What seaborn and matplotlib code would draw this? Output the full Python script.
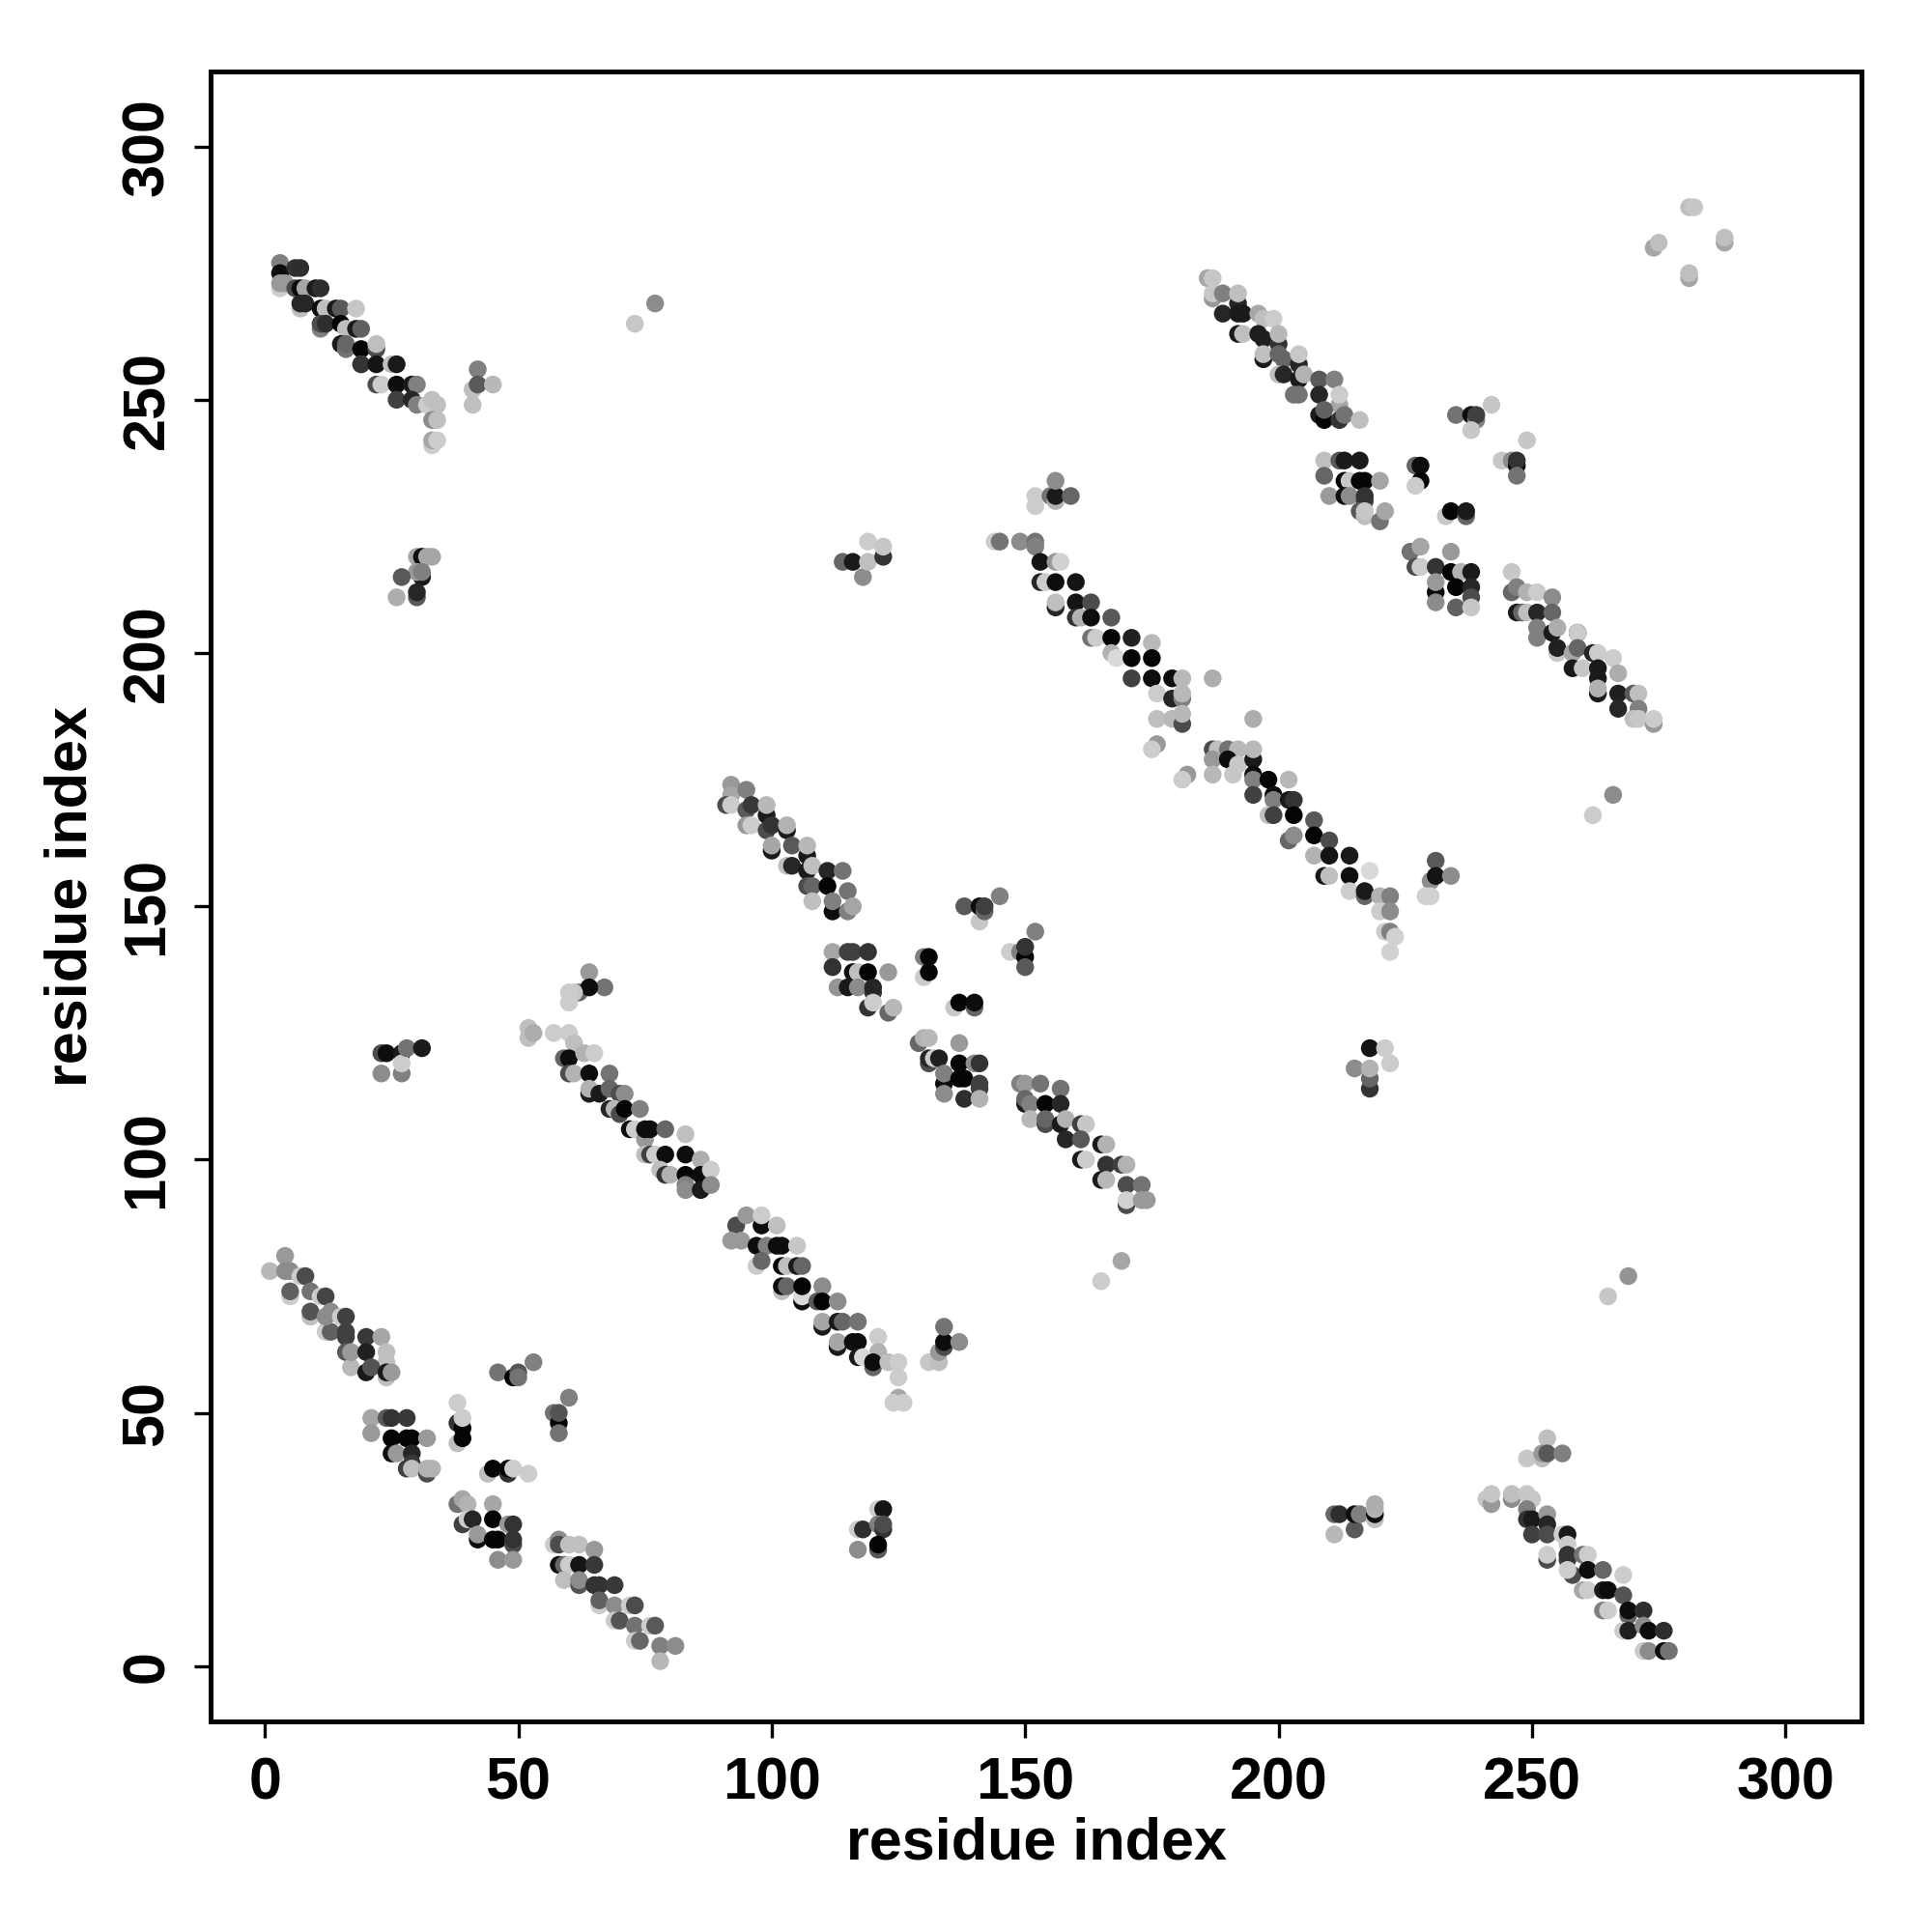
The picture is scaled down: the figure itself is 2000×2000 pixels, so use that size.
import pandas as pd
import matplotlib
matplotlib.use("Agg")
import matplotlib.pyplot as plt
import seaborn as sns

# each point: residue i, residue j, grey level (0 black .. 1 white)
band_a = [(1,78,.72),(4,81,.6),(5,73,.8),(5,74,.38),(4,78,.55),(5,78,.55),(7,77,.8),(8,77,.3),(9,69,.75),(9,70,.33),(9,74,.45),
          (11,73,.8),(12,73,.27),(12,66,.8),(13,66,.38),(12,69,.55),(13,70,.55),(15,69,.8),(16,69,.25),(16,66,.25),(16,65,.25),
          (20,65,.22),(23,65,.65),(16,62,.35),(17,59,.72),(17,62,.6),(20,62,.13),(24,62,.75),(24,60,.75),(20,58,.1),(21,59,.33),
          (24,57,.75),(24,58,.1),(25,58,.6)]
cluster_b = [(21,49,.65),(21,46,.6),(24,49,.35),(25,49,.2),(28,49,.22),(25,45,.02),(28,45,.02),(29,45,.02),(32,45,.6),(25,42,.05),
             (26,42,.6),(28,39,.25),(29,42,.15),(29,40,.22),(29,39,.75),(32,38,.3),(32,39,.7),(33,39,.7),
             (38,44,.75),(39,45,.02),(38,48,.2),(39,47,.02),(39,49,.8),(38,52,.8),
             (44,38,.75),(45,39,.02),(48,38,.2),(48,39,.02),(49,39,.8),(52,38,.8),
             (46,58,.45),(49,57,.02),(50,58,.33),(50,57,.45),(53,60,.5),
             (60,53,.5),(57,50,.45),(58,48,.02),(58,50,.33),(58,46,.45)]
cluster_c = [(38,32,.45),(39,33,.65),(40,32,.7),(39,28,.25),(40,29,.8),(41,29,.15),(42,25,.05),(42,26,.6),(45,32,.65),(45,29,.02),
             (45,25,.02),(46,25,.02),(48,28,.6),(49,28,.2),(49,24,.3),(49,25,.2),(46,21,.55),(49,21,.6)]
band_d = [(57,24,.8),(58,25,.55),(58,24,.3),(60,24,.75),(62,24,.75),(65,23,.6),(58,20,.05),(59,20,.4),(60,20,.8),(62,20,.08),(65,20,.22),
          (59,17,.75),(62,16,.33),(62,17,.55),(65,16,.2),(66,16,.2),(69,16,.22),(66,12,.8),(66,13,.38),(69,12,.55),(72,12,.8),(73,12,.3),
          (69,9,.8),(70,9,.33),(73,8,.45),(76,8,.8),(77,8,.35),(73,5,.8),(74,5,.4),(78,4,.5),(81,4,.55),(78,1,.72)]
band_e = [(93,87,.3),(95,89,.6),(98,87,.05),(98,89,.8),(101,87,.75),(92,84,.6),(94,84,.6),(97,83,.05),(99,83,.5),(101,83,.05),(102,83,.05),(105,83,.78),
          (97,79,.8),(98,80,.4),(102,79,.02),(103,79,.75),(105,79,.1),(106,79,.4),(102,74,.75),(102,75,.05),(103,75,.4),(106,72,.05),(106,73,.85),(106,75,.02),(110,75,.55),
          (109,72,.35),(110,72,.02),(113,72,.55),(110,67,.1),(110,68,.65),(113,68,.1),(114,68,.4),(117,68,.45),(113,63,.1),(113,64,.65),
          (116,64,.05),(117,64,.05),(121,65,.8),(121,62,.7),(117,61,.1),(118,61,.85),(120,59,.4),(120,60,.05),(123,60,.75),(125,60,.8),
          (125,57,.8),(125,53,.65),(124,52,.8),(126,52,.8)]
cluster_f = [(131,60,.78),(133,60,.75),(133,62,.6),(134,63,.3),(134,64,.05),(134,67,.45),(137,64,.55),(165,76,.8),(169,80,.65),
             (121,31,.8),(122,31,.08),(117,27,.8),(118,27,.18),(121,28,.5),(122,27,.2),(122,28,.3),(121,23,.35),(121,24,.02),(117,23,.55),
             (265,73,.78),(269,77,.58)]
band_g = [(52,126,.75),(52,124,.75),(53,125,.68),(57,125,.8),(60,125,.8),(61,123,.75),(59,120,.4),(60,120,.05),(63,121,.7),(65,121,.8),
          (60,117,.3),(61,117,.7),(64,117,.05),(68,117,.45),(64,113,.1),(64,114,.7),(66,113,.1),(68,114,.4),(70,113,.3),(71,113,.55),
          (68,110,.15),(69,110,.72),(70,109,.3),(71,110,.02),(74,110,.5),(72,106,.05),(73,106,.8),(75,104,.6),(75,106,.05),(76,106,.05),(79,106,.4),
          (83,105,.75),(75,101,.75),(76,101,.25),(77,101,.8),(79,101,.05),(83,101,.05),(86,100,.68),(78,98,.75),(79,97,.2),(80,97,.7),(83,97,.02),(86,97,.05),(88,98,.8),
          (83,95,.5),(83,94,.55),(86,94,.1),(88,95,.55)]
cluster_h = [(64,137,.6),(67,134,.45),(62,133,.4),(64,134,.05),(61,133,.78),(60,133,.8),(60,131,.8),
             (23,117,.55),(23,121,.3),(24,121,.05),(27,121,.1),(27,117,.5),(27,119,.8),(28,122,.45),(31,122,.1)]
band_i = [(92,174,.6),(92,172,.65),(95,173,.5),(91,170,.3),(92,170,.8),(95,169,.35),(96,170,.22),(99,168,.1),(99,170,.72),
          (95,166,.6),(96,166,.8),(99,165,.3),(100,166,.2),(103,165,.1),(103,166,.7),(100,161,.1),(100,162,.65),(104,162,.35),(107,160,.1),(107,162,.72),
          (103,158,.75),(104,158,.15),(107,157,.1),(108,158,.75),(111,157,.15),(114,157,.45),(107,154,.3),(108,154,.4),(111,154,.02),(108,151,.75),(115,153,.45),
          (112,149,.05),(112,151,.5),(115,149,.5),(116,150,.65)]
cluster_j = [(112,141,.65),(115,141,.25),(116,141,.25),(119,141,.2),(112,138,.2),(116,137,.05),(117,137,.75),(119,137,.02),(123,137,.6),
             (113,134,.58),(115,134,.1),(117,134,.55),(120,133,.22),(120,134,.15),(119,130,.2),(120,131,.8),(123,129,.4),(124,130,.72),
             (130,136,.8),(130,140,.5),(131,140,.02),(131,137,.02),
             (141,147,.78),(138,150,.35),(141,150,.05),(142,149,.4),(142,150,.25),(145,152,.5),
             (147,141,.8),(149,141,.5),(150,140,.02),(150,142,.2),(150,138,.35),(152,145,.5),
             (136,130,.78),(137,131,.02),(140,130,.4),(140,131,.05)]
cluster_k = [(129,123,.4),(130,124,.7),(131,124,.72),(137,123,.6),(131,119,.3),(131,120,.15),(132,120,.8),(133,120,.12),(137,119,.02),(140,119,.55),(141,119,.2),
             (134,115,.05),(134,117,.5),(137,116,.02),(138,116,.02),(141,115,.25),(141,114,.25),(134,113,.55),(138,112,.18),(141,112,.7)]
band_l = [(149,115,.5),(150,115,.6),(153,115,.45),(157,114,.45),(150,111,.1),(150,112,.4),(151,111,.5),(154,111,.02),(157,111,.15),
          (151,108,.72),(154,107,.3),(154,108,.4),(157,107,.1),(158,108,.7),(161,107,.25),(162,107,.78),(158,104,.15),(161,104,.35),(165,103,.1),(166,103,.7),
          (161,100,.1),(162,100,.8),(166,99,.2),(169,99,.25),(170,99,.7),(165,96,.1),(166,96,.72),(170,95,.3),(173,95,.45),
          (170,91,.3),(170,92,.82),(173,92,.6),(174,92,.6)]
band_m = [(144,222,.8),(145,222,.45),(149,222,.55),(152,222,.45),(152,221,.5),(153,218,.08),(156,218,.6),(157,218,.82),
          (153,214,.15),(154,214,.8),(156,214,.05),(156,209,.15),(156,210,.75),(160,214,.08),(160,210,.08),(163,210,.3),
          (160,207,.2),(161,207,.7),(163,207,.05),(167,207,.35),(163,203,.45),(164,203,.8),(167,203,.02),(171,203,.13),
          (167,200,.7),(168,199,.85),(171,199,.02),(175,202,.72),(175,199,.02),(171,195,.25),(175,195,.05),(179,195,.05),(181,195,.72),(187,195,.68),
          (176,192,.8),(179,191,.15),(181,191,.5),(181,192,.72),(176,187,.75),(179,187,.72),(181,186,.3),(181,188,.72),(195,187,.68),
          (176,182,.6),(175,181,.8),(182,176,.6),(181,175,.8)]
band_n = [(187,181,.3),(188,181,.75),(187,179,.6),(187,176,.72),(190,181,.45),(192,181,.72),(190,179,.05),(192,178,.78),(191,176,.78),(195,179,.1),(195,181,.72),
          (195,176,.05),(195,175,.5),(198,175,.02),(202,175,.72),(195,172,.25),(199,172,.05),(199,171,.5),(202,171,.1),(203,171,.2),
          (198,168,.75),(199,168,.25),(203,168,.02),(207,167,.35),(202,163,.4),(203,164,.55),(207,164,.02),(210,163,.3),(207,160,.7),
          (210,160,.08),(214,160,.1),(209,156,.1),(210,156,.75),(214,156,.05),(218,157,.85),(214,153,.8),(217,152,.4),(217,153,.1),(220,152,.7),(222,152,.5),
          (220,149,.8),(222,149,.55),(221,145,.8),(222,145,.5),(223,144,.82),(222,141,.82),
          (231,159,.35),(230,155,.55),(231,156,.08),(234,156,.55),(229,152,.82),(230,152,.82),(262,168,.8),(266,172,.55)]
cluster_o = [(215,118,.55),(218,114,.2),(218,116,.4),(218,118,.7),(218,122,.08),(221,122,.8),(222,119,.8),
             (114,218,.4),(116,218,.1),(118,215,.55),(119,218,.75),(119,222,.8),(122,219,.2),(122,221,.78),
             (152,231,.8),(152,229,.8),(155,231,.45),(156,230,.7),(156,231,.1),(156,234,.55),(159,231,.4)]
band_p = [(3,277,.5),(3,275,.05),(3,272,.8),(3,273,.6),(4,273,.6),(6,276,.2),(7,276,.18),(6,272,.3),(7,272,.05),(8,272,.65),(10,272,.1),(11,272,.18),
          (7,268,.75),(7,269,.15),(8,269,.15),(11,268,.05),(12,268,.75),(14,268,.1),(15,268,.35),(18,268,.78),
          (11,264,.5),(11,265,.3),(12,265,.18),(15,265,.02),(16,264,.75),(18,264,.1),(19,264,.38),(15,261,.1),(16,260,.45),(16,261,.4),(19,260,.02),(22,260,.3),(22,261,.75),
          (19,257,.8),(19,257,.2),(22,257,.08),(25,257,.75),(26,257,.1),(22,253,.3),(23,253,.8),(26,253,.05),(26,250,.25),(29,253,.1),(30,253,.5),(29,250,.15),(30,249,.5),
          (32,249,.8),(33,250,.75),(34,249,.75),(33,246,.55),(34,246,.75),(33,241,.8),(33,242,.65),(34,242,.8),
          (42,256,.5),(41,252,.75),(42,253,.35),(45,253,.72),(41,249,.75),(73,265,.78),(77,269,.55),
          (30,219,.65),(31,219,.05),(32,219,.65),(33,219,.65),(31,215,.1),(30,216,.6),(31,216,.5),(27,215,.35),(30,211,.35),(30,212,.15),(26,211,.68)]
band_q = [(186,274,.65),(187,274,.78),(187,270,.6),(187,271,.78),(189,271,.5),(192,269,.15),(192,271,.75),(189,267,.15),(192,267,.1),(193,267,.1),(196,267,.65),(197,266,.75),(199,266,.8),
          (192,263,.1),(193,263,.75),(196,263,.12),(197,262,.12),(200,261,.2),(200,263,.72),(197,258,.1),(197,259,.75),(200,259,.4),(201,258,.4),(204,257,.15),(204,259,.78),
          (200,255,.75),(201,255,.15),(204,254,.1),(205,255,.7),(208,254,.35),(211,254,.5),(203,251,.45),(204,251,.45),(208,251,.15),(212,249,.65),(212,251,.8),
          (208,247,.1),(209,246,.02),(209,248,.38),(212,246,.2),(213,247,.45),(216,246,.75),
          (235,247,.45),(238,247,.05),(239,246,.5),(239,247,.25),(242,249,.78),(238,244,.78),
          (244,238,.78),(246,238,.55),(247,237,.02),(247,238,.2),(247,235,.45),(249,242,.78)]
cluster_r = [(209,238,.75),(212,238,.35),(213,238,.1),(216,238,.1),(209,235,.4),(213,234,.02),(214,234,.78),(216,234,.02),(217,234,.02),(220,234,.65),
             (210,231,.6),(213,231,.05),(214,231,.55),(217,230,.25),(217,231,.2),(216,228,.35),(217,227,.75),(217,228,.78),(220,226,.45),(221,228,.65),
             (227,237,.4),(228,237,.05),(228,234,.02),(227,233,.8),
             (233,227,.78),(234,228,.02),(237,227,.4),(237,228,.1),
             (226,220,.45),(228,221,.65),(234,220,.6),(227,217,.3),(228,217,.8),(231,217,.2),(234,216,.02),(236,216,.7),(238,216,.1),
             (231,212,.05),(231,214,.6),(235,213,.02),(238,213,.15),(238,211,.3),(231,210,.55),(235,209,.38),(238,209,.78)]
band_s = [(246,216,.78),(246,212,.4),(247,213,.5),(249,212,.7),(251,212,.8),(254,211,.55),(247,208,.1),(248,208,.4),(249,208,.75),(251,208,.15),(254,208,.4),
          (251,205,.5),(251,203,.5),(254,204,.1),(255,205,.68),(255,200,.78),(255,201,.13),(259,204,.05),(259,204,.8),(258,200,.65),(259,201,.4),(262,200,.15),(263,200,.8),(266,199,.8),
          (258,197,.1),(260,197,.78),(263,195,.1),(263,197,.1),(267,196,.68),(263,192,.1),(263,193,.7),(267,192,.12),(270,192,.35),(271,192,.75),
          (267,189,.15),(271,189,.5),(270,187,.75),(271,187,.78),(274,186,.6),(274,187,.8)]
corner_t = [(281,288,.75),(282,288,.78),(274,280,.65),(275,281,.75),(288,281,.65),(288,282,.75),(281,274,.65),(281,275,.75)]
band_u = [(211,26,.72),(215,27,.35),(211,30,.4),(212,30,.18),(215,30,.05),(216,30,.5),(219,29,.75),(219,30,.05),(219,31,.7),(219,32,.68),
          (253,45,.75),(249,41,.78),(252,41,.75),(252,42,.6),(253,42,.35),(256,42,.5),
          (241,33,.78),(242,32,.6),(242,34,.78),(246,33,.55),(246,34,.75),(249,34,.78),(250,33,.78),(249,31,.5),
          (249,29,.2),(250,29,.1),(253,30,.6),(253,28,.15),(250,26,.25),(253,26,.3),(256,26,.8),(257,26,.1),(257,24,.8),
          (253,21,.3),(253,22,.8),(257,21,.25),(257,22,.2),(260,22,.45),(261,22,.8),(258,18,.3),(257,19,.8),(261,19,.05),(264,19,.4),
          (260,15,.65),(261,15,.8),(264,15,.1),(265,15,.05),(268,18,.8),(268,14,.33),(264,11,.5),(265,11,.8),(269,10,.4),(269,11,.05),(272,11,.18),
          (268,7,.8),(269,7,.12),(272,8,.55),(273,7,.05),(276,7,.18),(272,3,.8),(273,3,.55),(276,3,.05),(277,3,.45)]

groups = [band_a, cluster_b, cluster_c, band_d, band_e, cluster_f, band_g, cluster_h, band_i, cluster_j, cluster_k,
          band_l, band_m, band_n, cluster_o, band_p, band_q, cluster_r, band_s, corner_t, band_u]
tick_values = [0, 50, 100, 150, 200, 250, 300]

df = pd.DataFrame([p for g in groups for p in g], columns=["i", "j", "grey"])
df["colour"] = df["grey"].map(lambda v: matplotlib.colors.to_hex((v, v, v)))

sns.set_theme(style="white")
plt.rcParams["font.family"] = ["Liberation Sans", "DejaVu Sans"]
plt.rcParams["font.weight"] = "bold"

fig = plt.figure(figsize=(10, 10), dpi=200)
ax = fig.add_axes([0.109, 0.109, 0.8545, 0.854])

sns.scatterplot(data=df, x="i", y="j", hue="colour",
                palette={c: c for c in df["colour"].unique()},
                s=44, linewidth=0, legend=False, ax=ax)

ax.set_xlim(-10.7, 315)
ax.set_ylim(-10.9, 314.8)
ax.set_xticks(tick_values)
ax.set_yticks(tick_values)
ax.tick_params(axis="both", length=6, width=1.2, color="black", labelsize=22, labelcolor="black", left=True, bottom=True)
ax.tick_params(axis="x", pad=7)
ax.tick_params(axis="y", pad=7)
plt.setp(ax.get_yticklabels(), rotation=90, va="center")

ax.set_xlabel("residue index", fontsize=22, fontweight="bold", color="black", labelpad=2)
ax.set_ylabel("residue index", fontsize=22, fontweight="bold", color="black", labelpad=8)
for s in ax.spines.values():
    s.set_linewidth(1.8)
    s.set_color("black")

fig.savefig("out.png", dpi=200, facecolor="white")
